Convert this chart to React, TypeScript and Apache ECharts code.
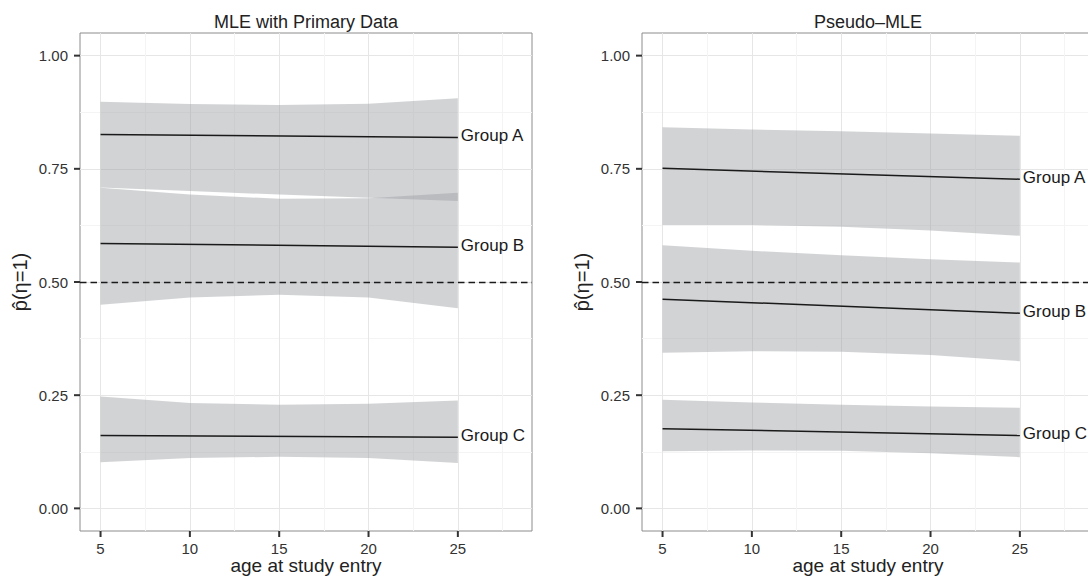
import React, { useEffect, useRef } from "react";
import * as echarts from "echarts";

// ---- data ----
const ages = [5, 10, 15, 20, 25];
const lineAges = [5, 25];
const groupNames = ["Group A", "Group B", "Group C"];
const xTicks = [5, 10, 15, 20, 25];
const xMinor = [7.5, 12.5, 17.5, 22.5, 27.5];
const yTicks = [0, 0.25, 0.5, 0.75, 1];
const yMinor = [0.125, 0.375, 0.625, 0.875];
const refLevel = 0.5;
const panelTitles = ["MLE with Primary Data", "Pseudo\u2013MLE"];
const xName = "age at study entry";
const yName = "p\u0302(\u03b7=1)";

// MLE with primary data
const mleA_fit = [0.826, 0.819];
const mleA_hi = [0.898, 0.893, 0.891, 0.894, 0.906];
const mleA_lo = [0.709, 0.701, 0.693, 0.686, 0.679];
const mleB_fit = [0.585, 0.577];
const mleB_hi = [0.708, 0.693, 0.684, 0.685, 0.697];
const mleB_lo = [0.45, 0.466, 0.472, 0.466, 0.442];
const mleC_fit = [0.161, 0.157];
const mleC_hi = [0.247, 0.233, 0.229, 0.231, 0.238];
const mleC_lo = [0.102, 0.111, 0.114, 0.111, 0.1];

// Pseudo-MLE
const psA_fit = [0.751, 0.727];
const psA_hi = [0.842, 0.837, 0.833, 0.828, 0.823];
const psA_lo = [0.626, 0.626, 0.622, 0.614, 0.602];
const psB_fit = [0.462, 0.431];
const psB_hi = [0.581, 0.569, 0.559, 0.55, 0.543];
const psB_lo = [0.344, 0.347, 0.346, 0.339, 0.325];
const psC_fit = [0.176, 0.161];
const psC_hi = [0.24, 0.234, 0.229, 0.225, 0.222];
const psC_lo = [0.126, 0.128, 0.127, 0.122, 0.113];

const panels = [
  {
    fits: [mleA_fit, mleB_fit, mleC_fit],
    his: [mleA_hi, mleB_hi, mleC_hi],
    los: [mleA_lo, mleB_lo, mleC_lo],
  },
  {
    fits: [psA_fit, psB_fit, psC_fit],
    his: [psA_hi, psB_hi, psC_hi],
    los: [psA_lo, psB_lo, psC_lo],
  },
];

const FONT = "'Liberation Sans', Arial, Helvetica, sans-serif";
const GRID_LEFTS = [80, 642];
const GRID_TOP = 33;
const GRID_W = 452;
const GRID_H = 498;
const X_MIN = 3.85;
const X_MAX = 29.15;
const Y_MIN = -0.05;
const Y_MAX = 1.05;
const TICK_LEN = 6;

export default function App() {
  const ref = useRef<HTMLDivElement>(null);

  useEffect(() => {
    if (!ref.current) return;
    const chart = echarts.init(ref.current, null, { renderer: "svg" });

    const grids = GRID_LEFTS.map((left) => ({
      left,
      top: GRID_TOP,
      width: GRID_W,
      height: GRID_H,
      show: true,
      backgroundColor: "#ffffff",
      borderColor: "#8c8c8c",
      borderWidth: 1,
      containLabel: false,
      outerBoundsMode: "none",
    }));

    const xAxes: any[] = [];
    const yAxes: any[] = [];
    [0, 1].forEach((g) => {
      xAxes.push({
        gridIndex: g,
        type: "value",
        position: "bottom",
        min: X_MIN,
        max: X_MAX,
        axisLine: { show: false, onZero: false },
        axisTick: { show: false, customValues: xTicks },
        axisLabel: {
          customValues: xTicks,
          color: "#333",
          fontSize: 15,
          fontFamily: FONT,
          margin: 10,
        },
        splitLine: { show: true, lineStyle: { color: "#e6e6e6", width: 1 } },
        name: xName,
        nameLocation: "middle",
        nameGap: 25,
        nameMoveOverlap: false,
        nameTextStyle: { fontSize: 19, color: "#222", fontFamily: FONT },
      });
      yAxes.push({
        gridIndex: g,
        type: "value",
        position: "left",
        min: Y_MIN,
        max: Y_MAX,
        axisLine: { show: false, onZero: false },
        axisTick: { show: false, customValues: yTicks },
        axisLabel: {
          customValues: yTicks,
          color: "#333",
          fontSize: 15,
          fontFamily: FONT,
          margin: 12,
          formatter: (v: number) => v.toFixed(2),
        },
        splitLine: { show: true, lineStyle: { color: "#e6e6e6", width: 1 } },
        name: yName,
        nameLocation: "middle",
        nameRotate: 90,
        nameGap: 50,
        nameMoveOverlap: false,
        nameTextStyle: { fontSize: 20, color: "#222", fontFamily: FONT },
      });
    });
    // minor grid lines (hidden axes)
    [0, 1].forEach((g) => {
      xAxes.push({
        gridIndex: g,
        type: "value",
        position: "top",
        min: X_MIN,
        max: X_MAX,
        axisLine: { show: false, onZero: false },
        axisTick: { show: false, customValues: xMinor },
        axisLabel: { show: false, customValues: xMinor },
        splitLine: { show: true, lineStyle: { color: "#f4f4f4", width: 1 } },
      });
      yAxes.push({
        gridIndex: g,
        type: "value",
        position: "right",
        min: Y_MIN,
        max: Y_MAX,
        axisLine: { show: false, onZero: false },
        axisTick: { show: false, customValues: yMinor },
        axisLabel: { show: false, customValues: yMinor },
        splitLine: { show: true, lineStyle: { color: "#f4f4f4", width: 1 } },
      });
    });

    const series: any[] = [];
    panels.forEach((p, g) => {
      // ribbons
      series.push({
        type: "custom",
        xAxisIndex: g,
        yAxisIndex: g,
        silent: true,
        z: 2,
        data: p.los.map((lo, i) => [ages[0], lo[0], i]),
        encode: { x: 0, y: 1 },
        renderItem: (params: any, api: any) => {
          const i = params.dataIndex;
          const hi = p.his[i];
          const lo = p.los[i];
          const top = ages.map((a, k) => api.coord([a, hi[k]]));
          const bottom = ages.map((a, k) => api.coord([a, lo[k]])).reverse();
          return {
            type: "polygon",
            shape: { points: top.concat(bottom) },
            style: { fill: "rgba(155,157,162,0.45)", stroke: "none" },
          };
        },
      });
      // fitted lines
      p.fits.forEach((fit, i) => {
        const s: any = {
          type: "line",
          name: groupNames[i],
          xAxisIndex: g,
          yAxisIndex: g,
          z: 4,
          symbol: "none",
          silent: true,
          data: lineAges.map((a, k) => [a, fit[k]]),
          lineStyle: { color: "#1a1a1a", width: 1.5 },
          itemStyle: { color: "#1a1a1a" },
          endLabel: {
            show: true,
            formatter: "{a}",
            color: "#1a1a1a",
            fontSize: 17,
            fontFamily: FONT,
            distance: 3,
            offset: [0, -2],
          },
        };
        if (i === 0) {
          s.markLine = {
            silent: true,
            symbol: ["none", "none"],
            label: { show: false },
            z: 3,
            lineStyle: { type: [6.5, 4], color: "#1a1a1a", width: 1.3 },
            data: [{ yAxis: refLevel }],
          };
        }
        series.push(s);
      });
    });

    const titleGraphics: any[] = panelTitles.map((t, g) => ({
      type: "text",
      x: GRID_LEFTS[g] + GRID_W / 2,
      y: 22,
      style: {
        text: t,
        textAlign: "center",
        textVerticalAlign: "middle",
        fontSize: 18,
        fill: "#222",
        fontFamily: FONT,
      },
    }));

    chart.setOption({
      animation: false,
      backgroundColor: "#ffffff",
      grid: grids,
      xAxis: xAxes,
      yAxis: yAxes,
      series,
      graphic: titleGraphics,
    });

    // outward tick marks, positioned through the axes' own scales
    const tickGraphics: any[] = [];
    const toPx = (g: number, v: number[]): number[] | null => {
      let pt: any = null;
      try {
        pt = chart.convertToPixel({ gridIndex: g } as any, v);
      } catch (e) {
        pt = null;
      }
      if (!pt || !isFinite(pt[0]) || !isFinite(pt[1])) {
        try {
          const px = chart.convertToPixel({ xAxisIndex: g } as any, v[0]);
          const py = chart.convertToPixel({ yAxisIndex: g } as any, v[1]);
          pt = [px, py];
        } catch (e) {
          pt = null;
        }
      }
      return pt && isFinite(pt[0]) && isFinite(pt[1]) ? pt : null;
    };
    [0, 1].forEach((g) => {
      xTicks.forEach((v) => {
        const pt = toPx(g, [v, Y_MIN]);
        if (!pt) return;
        tickGraphics.push({
          type: "line",
          z: 100,
          silent: true,
          shape: { x1: pt[0], y1: pt[1], x2: pt[0], y2: pt[1] + TICK_LEN },
          style: { stroke: "#333333", lineWidth: 2 },
        });
      });
      yTicks.forEach((v) => {
        const pt = toPx(g, [X_MIN, v]);
        if (!pt) return;
        tickGraphics.push({
          type: "line",
          z: 100,
          silent: true,
          shape: { x1: pt[0] - TICK_LEN, y1: pt[1], x2: pt[0], y2: pt[1] },
          style: { stroke: "#333333", lineWidth: 2 },
        });
      });
    });
    chart.setOption({ graphic: titleGraphics.concat(tickGraphics) });

    return () => chart.dispose();
  }, []);

  return (
    <div
      ref={ref}
      style={{ position: "absolute", left: 0, top: 0, width: 1088, height: 577 }}
    />
  );
}
